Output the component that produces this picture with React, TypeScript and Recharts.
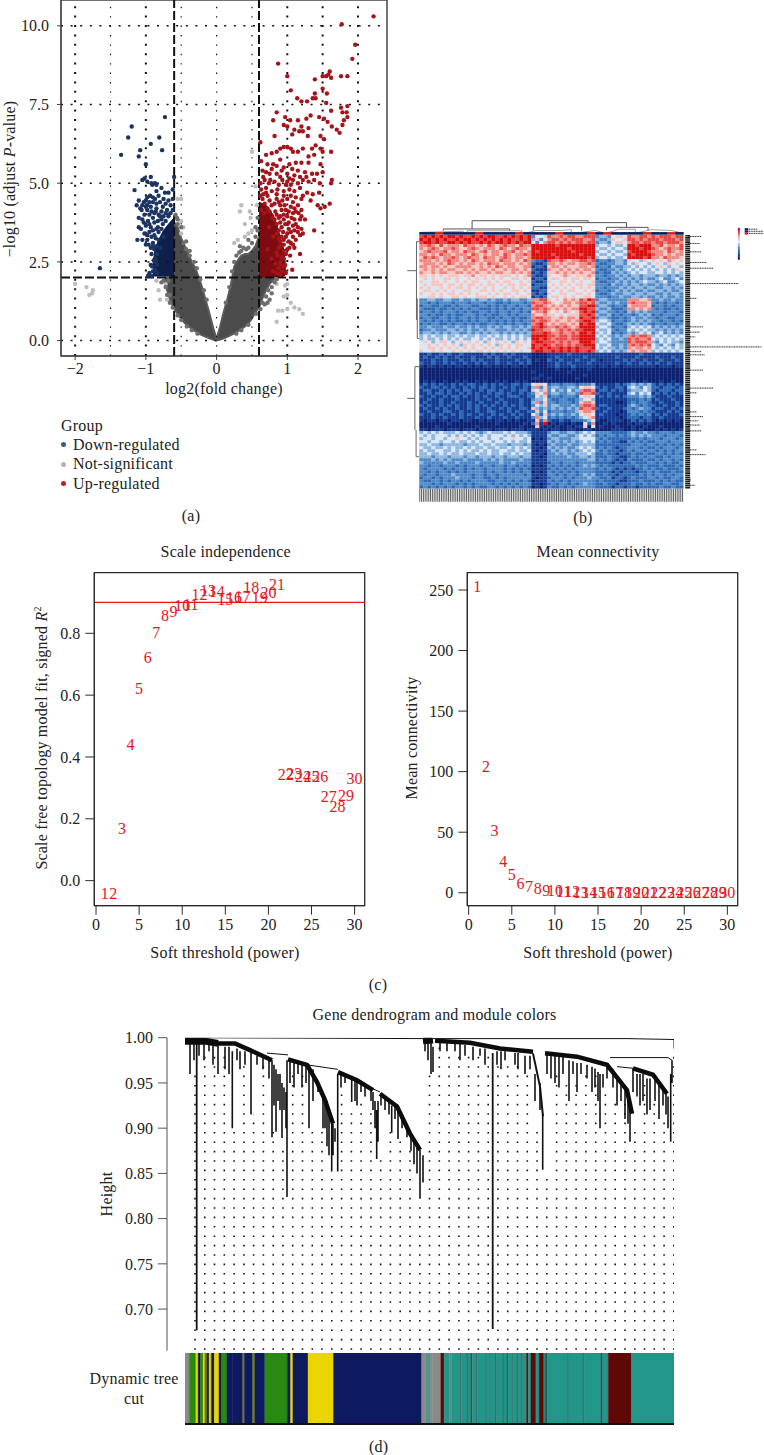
import {
  Area,
  Bar,
  BarChart,
  ComposedChart,
  Line,
  ReferenceArea,
  ReferenceLine,
  Scatter,
  XAxis,
  YAxis,
  ZAxis,
} from "recharts";
import type { CSSProperties, ReactNode } from "react";

const SERIF = '"Liberation Serif", serif';
const INK = "#2b2b2b";

// (a) volcano plot
const foldTicks = [-2, -1, 0, 1, 2];
const pvalTicks = [0, 2.5, 5, 7.5, 10];
const foldGridThick = [-2, -1, 1, 1.5, 2];
const foldGridThin = [-1.5, -0.5, 0, 0.5];

const greyLeftLobe = [
  [-0.74, 1.95, 2], [-0.7, 1.6, 2], [-0.65, 1.25, 2], [-0.6, 1.02, 2], [-0.6, 1.02, 3.75],
  [-0.55, 0.85, 3.6], [-0.5, 0.7, 3.25], [-0.45, 0.56, 3.0], [-0.4, 0.46, 2.75], [-0.35, 0.38, 2.5],
  [-0.3, 0.3, 2.3], [-0.25, 0.22, 2.0], [-0.2, 0.17, 1.65], [-0.15, 0.12, 1.25], [-0.1, 0.07, 0.85],
  [-0.05, 0.03, 0.42], [0, 0, 0.05],
];
const greyRightLobe = [
  [0, 0, 0.05], [0.05, 0.03, 0.45], [0.1, 0.07, 0.9], [0.15, 0.12, 1.3], [0.2, 0.17, 1.75],
  [0.25, 0.23, 2.35], [0.3, 0.3, 2.55], [0.35, 0.37, 2.7], [0.4, 0.45, 2.75], [0.45, 0.55, 2.75],
  [0.5, 0.7, 2.85], [0.55, 0.9, 3.0], [0.6, 1.05, 3.3], [0.6, 1.05, 2], [0.65, 1.35, 2],
  [0.7, 1.6, 2], [0.75, 1.8, 2], [0.82, 1.97, 2],
];
const navyCore = [
  [-0.9, 2.05, 2.4], [-0.87, 2.05, 2.9], [-0.82, 2.05, 3.2], [-0.75, 2.05, 3.5],
  [-0.68, 2.05, 3.7], [-0.6, 2.02, 3.9],
];
const redCore = [
  [0.6, 2.02, 4.4], [0.7, 2.02, 4.3], [0.8, 2.02, 4.0], [0.85, 2.02, 3.7],
  [0.9, 2.02, 3.3], [0.95, 2.05, 2.9], [0.98, 2.1, 2.3],
];

const downPoints = [
  [-0.73, 7.1], [-1.2, 6.8], [-1.25, 6.45], [-0.81, 6.45], [-0.93, 6.25], [-1.08, 6.05], [-0.77, 6.05],
  [-1.35, 5.9], [-1.1, 5.85], [-1.0, 5.6], [-0.6, 5.2], [-1.02, 5.15], [-1.05, 5.1], [-0.98, 5.05],
  [-0.93, 5.2], [-0.92, 5.0], [-0.87, 5.0], [-0.85, 4.95], [-0.91, 4.95], [-0.78, 4.85], [-1.16, 4.78],
  [-0.73, 4.7], [-1.1, 4.45], [-1.05, 4.3], [-1.0, 4.45], [-0.95, 4.4], [-0.87, 4.5], [-0.8, 4.4],
  [-0.72, 4.35], [-0.62, 4.5], [-0.65, 4.3], [-1.08, 4.2], [-1.0, 4.25], [-0.93, 4.25], [-0.85, 4.2],
  [-0.76, 4.25], [-0.7, 4.15], [-1.02, 4.0], [-0.95, 4.0], [-0.88, 4.05], [-0.82, 4.0], [-0.75, 3.95],
  [-0.68, 4.0], [-1.05, 3.85], [-0.97, 3.8], [-0.9, 3.9], [-0.83, 3.8], [-0.72, 3.8], [-1.1, 3.6],
  [-1.0, 3.65], [-0.93, 3.6], [-0.85, 3.55], [-0.78, 3.55], [-1.02, 3.4], [-0.95, 3.45], [-0.88, 3.35],
  [-0.82, 3.2], [-1.05, 3.2], [-0.98, 3.2], [-1.0, 3.05], [-0.9, 3.1], [-0.88, 2.9], [-0.92, 2.75],
  [-0.87, 2.6], [-0.93, 2.4], [-0.9, 2.2], [-0.95, 2.15], [-1.65, 2.3], [-0.85, 3.0], [-0.84, 2.4],
  [-0.62, 4.15], [-0.65, 4.05], [-0.68, 3.95], [-0.72, 4.05], [-0.78, 4.1], [-0.85, 4.35], [-0.9, 4.4],
  [-0.98, 4.3], [-1.03, 4.4], [-1.06, 4.15], [-0.98, 4.15], [-0.92, 4.1], [-0.86, 4.1], [-0.8, 3.95],
  [-0.78, 3.85], [-0.88, 3.75], [-0.95, 3.7], [-1.03, 3.75], [-0.9, 3.5], [-0.83, 3.6], [-0.76, 3.7],
  [-0.82, 3.45], [-0.86, 3.25], [-0.92, 3.3], [-0.98, 3.35], [-0.96, 3.05], [-0.93, 2.95], [-0.9, 3.0],
  [-0.84, 2.75], [-0.86, 2.5], [-0.89, 2.55], [-0.91, 2.35], [-0.87, 2.25], [-0.84, 2.15], [-0.92, 2.05],
  [-0.97, 2.05], [-0.75, 3.3], [-0.8, 2.95], [-0.75, 4.5], [-0.68, 4.45], [-0.82, 4.6], [-0.94, 4.6],
  [-0.9, 4.55], [-0.98, 4.55], [-0.85, 4.75], [-0.68, 4.7], [-0.62, 4.8], [-1.12, 3.2], [-1.07, 3.55],
  [-1.1, 3.9], [-1.13, 4.3],
];
const upPoints = [
  [2.22, 10.3], [1.77, 10.05], [1.96, 9.4], [1.92, 8.95], [0.87, 8.8], [1.0, 8.4], [1.76, 8.4], [1.85, 8.4],
  [1.6, 8.55], [1.55, 8.4], [1.5, 8.4], [1.62, 8.35], [1.39, 8.3], [1.58, 8.45], [1.05, 7.95], [1.5, 8.0],
  [1.56, 7.85], [1.39, 7.85], [1.14, 7.7], [1.2, 7.6], [1.28, 7.6], [1.36, 7.7], [1.4, 7.7], [1.55, 7.55],
  [1.85, 7.45], [1.76, 7.4], [1.78, 7.25], [1.84, 7.25], [1.62, 7.3], [1.85, 7.1], [1.8, 7.0], [0.85, 7.25],
  [0.8, 7.0], [0.97, 7.1], [1.04, 7.0], [1.15, 7.0], [1.27, 7.05], [1.33, 7.15], [1.45, 7.1], [1.52, 7.05],
  [1.57, 6.95], [1.0, 6.8], [0.95, 6.85], [1.2, 6.8], [1.22, 6.65], [1.1, 6.7], [1.07, 6.55], [1.17, 6.65],
  [1.3, 6.75], [1.29, 6.5], [1.63, 6.8], [1.7, 6.7], [1.74, 6.6], [1.78, 6.85], [1.47, 6.5], [1.52, 6.4],
  [0.82, 6.5], [0.62, 6.3], [0.9, 6.1], [0.95, 6.15], [1.0, 6.15], [1.05, 6.1], [1.08, 6.0], [0.85, 6.0],
  [0.78, 5.95], [0.7, 5.9], [1.15, 6.0], [1.22, 6.1], [1.3, 5.85], [1.35, 6.1], [1.4, 6.2], [1.47, 6.1],
  [1.5, 6.0], [1.62, 6.0], [1.38, 5.9], [0.63, 5.7], [0.72, 5.6], [0.8, 5.6], [0.85, 5.55], [0.95, 5.5],
  [1.03, 5.6], [1.12, 5.65], [1.2, 5.65], [1.3, 5.65], [1.47, 5.6], [0.65, 5.4], [0.7, 5.35], [0.75, 5.3],
  [0.85, 5.3], [0.92, 5.4], [1.0, 5.3], [1.1, 5.25], [1.18, 5.2], [1.27, 5.2], [1.35, 5.3], [1.42, 5.3],
  [1.5, 5.35], [1.63, 5.1], [0.62, 5.0], [0.68, 5.1], [0.76, 5.1], [0.82, 5.05], [0.93, 5.1], [1.0, 5.05],
  [1.08, 5.1], [1.15, 5.0], [1.22, 5.1], [1.3, 5.05], [1.38, 5.1], [1.46, 5.0], [1.62, 5.0], [0.63, 4.8],
  [0.7, 4.85], [0.78, 4.75], [0.86, 4.8], [0.95, 4.75], [1.03, 4.8], [1.1, 4.75], [1.18, 4.85], [1.28, 4.7],
  [1.36, 4.65], [1.45, 4.7], [1.22, 4.6], [0.65, 4.5], [0.75, 4.45], [0.85, 4.5], [0.93, 4.45], [1.0, 4.5],
  [1.08, 4.4], [1.33, 4.45], [1.43, 4.3], [1.47, 4.2], [1.53, 4.25], [1.6, 4.35], [1.15, 4.3], [0.9, 4.3],
  [1.02, 4.1], [1.12, 4.1], [0.95, 4.0], [1.06, 3.9], [1.18, 3.85], [1.25, 3.85], [1.12, 3.7], [1.2, 3.55],
  [1.18, 3.35], [1.22, 3.4], [1.38, 3.5], [1.1, 3.5], [1.02, 3.55], [0.98, 3.3], [1.05, 3.1], [1.0, 2.9],
  [1.1, 2.95], [1.18, 2.75], [0.95, 2.6], [0.97, 2.4], [1.07, 2.25], [0.98, 2.15], [0.85, 2.8], [0.9, 3.0],
  [0.92, 3.6], [0.88, 3.9], [0.83, 4.1], [0.75, 4.1], [0.95, 3.2], [1.0, 3.7], [0.9, 2.4],
  [0.62, 4.6], [0.66, 4.65], [0.72, 4.6], [0.68, 4.35], [0.78, 4.3], [0.82, 4.35], [0.88, 4.4], [0.96, 4.3],
  [1.05, 4.25], [1.1, 4.2], [1.2, 4.15], [0.72, 4.2], [0.92, 4.15], [0.98, 4.15], [1.08, 4.05], [1.16, 4.05],
  [0.85, 4.0], [0.9, 3.95], [1.0, 3.95], [1.1, 3.85], [1.2, 3.95], [0.82, 3.85], [0.95, 3.85], [1.02, 3.75],
  [0.9, 3.75], [0.97, 3.7], [1.08, 3.65], [1.15, 3.6], [0.85, 3.7], [0.88, 3.5], [0.94, 3.45], [1.05, 3.45],
  [1.15, 3.45], [0.85, 3.4], [0.92, 3.3], [1.0, 3.4], [1.08, 3.3], [1.12, 3.2], [0.88, 3.25], [0.95, 3.05],
  [1.02, 3.15], [1.08, 3.05], [0.9, 3.15], [0.88, 2.95], [0.95, 2.85], [1.03, 2.95], [0.86, 2.7], [0.92, 2.65],
  [0.98, 2.75], [1.04, 2.7], [0.9, 2.5], [0.94, 2.35], [0.87, 2.3], [0.92, 2.2], [0.85, 2.15], [0.9, 2.1],
  [0.8, 2.2], [0.83, 2.45], [0.78, 2.6], [0.72, 2.9], [0.8, 3.3], [0.74, 3.6], [0.79, 3.9], [0.68, 4.05],
  [0.63, 4.15], [0.7, 4.7], [0.85, 4.65], [0.95, 4.6], [1.05, 4.6], [1.12, 4.55], [1.2, 4.5], [0.74, 5.0],
  [0.88, 4.95], [0.98, 4.95], [1.05, 4.95], [0.9, 5.2], [0.78, 5.45], [0.66, 5.2], [1.03, 5.15], [0.9, 5.75],
  [1.15, 5.4], [1.07, 5.45], [1.25, 5.35],
];
const quietPoints = [
  [-1.84, 1.7], [-1.75, 1.6], [-1.76, 1.5], [-1.8, 1.45], [-2.0, 1.8], [0.85, 1.8], [1.0, 1.8], [0.97, 1.75],
  [1.0, 1.45], [0.95, 1.4], [1.05, 1.2], [1.1, 1.05], [1.17, 1.0], [1.22, 0.85], [0.87, 0.95], [0.93, 0.95],
  [1.0, 1.0], [0.85, 0.6], [-0.82, 1.6], [-0.72, 1.8], [-0.8, 1.3], [-0.7, 1.3], [-0.85, 1.9], [-0.5, 4.5],
  [-0.55, 4.5], [0.35, 4.3], [0.33, 4.1], [0.48, 3.9], [0.5, 3.5], [0.4, 3.7], [0.25, 3.1], [0.3, 3.2],
  [0.45, 3.4], [0.5, 6.0], [0.55, 4.9], [0.57, 4.3], [-0.5, 3.8], [-0.47, 3.6], [-0.5, 3.4], [0.4, 3.3], [0.47, 4.1],
];
const lobeEdgePoints = [
  [-0.62, 1.05], [-0.66, 1.2], [-0.7, 1.45], [-0.72, 1.7], [-0.75, 1.9], [-0.78, 1.85], [-0.68, 1.9], [-0.66, 1.45],
  [-0.55, 0.8], [-0.5, 0.65], [-0.42, 0.45], [-0.35, 0.33], [-0.27, 0.22], [-0.55, 3.7], [-0.56, 3.9], [-0.58, 4.0],
  [-0.5, 3.6], [-0.47, 3.1], [-0.43, 2.9], [-0.38, 2.7], [-0.55, 3.85], [-0.43, 3.15], [-0.38, 2.85], [-0.32, 2.5],
  [-0.28, 2.3], [-0.23, 1.95], [-0.18, 1.6], [-0.14, 1.3], [0.25, 2.5], [0.28, 2.7], [0.32, 2.8], [0.35, 2.85],
  [0.38, 2.95], [0.42, 2.9], [0.45, 2.95], [0.5, 3.1], [0.55, 3.3], [0.55, 3.6], [0.58, 3.5], [0.58, 3.9],
  [0.45, 3.2], [0.33, 3.0], [0.22, 2.2], [0.18, 1.7], [0.13, 1.2], [0.65, 1.2], [0.7, 1.4], [0.73, 1.6],
  [0.78, 1.7], [0.82, 1.85], [0.85, 1.95], [0.68, 1.15], [0.72, 1.2], [0.62, 1.0], [0.56, 0.85], [0.45, 0.5],
  [0.35, 0.33], [0.28, 0.22], [0.75, 1.3], [0.78, 1.5],
];

// (b) heatmap, one digit per cell (0 navy .. 9 red), groups follow the column dendrogram cut
const heatGroupStarts = [0, 28, 32, 40, 44, 48, 52, 58];
const heatRows = [
  "8989898998988989899889898989 3556 87787887 7888 3443 5665 877887 87888788",
  "9898989889899898989898988989 4635 78878788 8778 4334 6556 887878 88788878",
  "8998988998989889898998989899 5357 88787878 8788 3443 5665 788788 78878887",
  "7787686777687767687678776877 9999 99899999 9999 4554 5445 998999 77867768",
  "7678767787667876777687678776 9999 99999899 9999 5445 4554 999899 87678778",
  "6787778677687767867767786767 9899 99999989 9999 4554 5445 899998 77768767",
  "7767687767776876767768767787 9999 98999999 8999 5445 4554 989999 87767677",
  "6878767787678776877678767767 9999 99899999 9989 4554 5445 999989 77687776",
  "7776767877676876777687767687 3221 87787677 8878 2332 3443 655465 65657656",
  "6777676876767767687767776767 2112 77676776 7787 3223 3443 546554 56546565",
  "7767767667777667676876776677 1221 67767666 7767 2332 4334 454545 45654554",
  "6767676776676767767667677676 2111 76676767 6776 3223 3434 545454 54545465",
  "7667677667767676676776676767 1212 66767676 7667 2322 4343 454554 45545454",
  "6656565666566756656566656567 2112 65567656 6676 3323 3434 344344 43443434",
  "5656556656556565656565566565 1221 56656566 5665 2332 3343 434343 34533453",
  "6556656556565665565656655656 2112 65566565 6556 3223 3434 343454 43453345",
  "5656665665656656566565665665 1222 56565656 6566 3332 4334 344343 34343434",
  "6565565656656565656556565656 2211 65656565 6565 3323 3343 434434 43344343",
  "5665656565566556656565566565 1122 56565665 5656 2332 3434 343343 34434334",
  "6556565665656565565656656556 2121 65566556 6565 3223 4334 434434 43343443",
  "5566565566565566656556565665 1212 56656565 5665 3332 3343 344343 34343343",
  "3344334433433434434334344334 7788 65657676 8798 3443 3333 777667 33433433",
  "3323233323332333233223233323 8778 76567767 8878 4334 3433 787776 32323323",
  "2332232232333223323232332332 7887 67676766 8899 3443 2332 677776 23323233",
  "3222322323232332223232323233 8878 76767677 9988 4334 2223 776767 32322323",
  "2332323332323223323233233232 6778 65657656 8989 3443 3232 434343 33323332",
  "3323223232233323232233232333 7667 66565666 8898 4334 2323 323434 23233323",
  "2332233232332323322323323223 7887 76676776 9889 3443 2232 343343 32332233",
  "3232323232232323323232323233 8788 76766767 8998 4554 2332 343434 33233232",
  "2323322323323232233232323323 7897 67677676 9899 5445 3223 434343 23323323",
  "3343334334334343343434433434 8898 77878767 9999 4554 2332 454545 34343434",
  "2334333443434334344333434343 9887 76787878 8999 5445 3233 545454 43434343",
  "3443434344334343434434343434 8889 87787787 9989 4545 2323 434545 34534343",
  "4545445445454454454545454544 9999 88788788 9999 5454 3434 787887 45454545",
  "4544545454544554545445454545 9989 87888788 9999 4545 3343 878778 54545454",
  "5654566545656565465656546565 8998 88787877 9998 4554 3333 878887 43545443",
  "5565656565465656565465656655 9889 87887878 8999 5445 3343 787878 54354354",
  "5566565656565655656565656556 9898 98898989 8889 5454 4343 767767 54545454",
  "6556565565656566565656565655 8998 89898989 8898 4545 3434 676776 45454545",
  "1121121211211111212112121111 0000 11111211 1111 1111 1111 111211 11111111",
  "1211212112111211121211211121 0000 11211111 1211 1111 1211 112111 12111211",
  "1112112111211212111211112112 0100 21121112 1112 1011 1112 121121 11211121",
  "2112112121121121211211211212 0000 11211211 1121 1111 1211 211212 12112111",
  "1011010101101010110101011010 0000 11211121 1111 0110 1101 111111 10111011",
  "0000000000000000000000000000 0000 00100010 0010 0000 0000 000000 00000000",
  "0000000000000000000000000000 1000 00000100 0000 0000 0000 000000 00000000",
  "0000000000000000000000000000 0010 00000000 0100 0000 0000 000000 00000000",
  "0000000000000000000000000000 1100 10000001 0000 0000 0000 000000 00000000",
  "0101001001010010100101001010 0000 00000000 0000 0000 0000 010010 00100100",
  "1212121121212211212121122122 5665 23323332 3334 1111 1212 343434 21212121",
  "2112212121121212212112121121 4736 34433443 5665 2121 1221 454354 22122212",
  "1221121212122112122121121221 6546 35343534 7887 1221 2121 344454 21222122",
  "1121221211212121121221211212 3657 34433443 8778 2112 1111 453545 12121212",
  "2112112122121121211211222112 2546 23323332 5665 1212 1212 333434 21112111",
  "1121121112111121121121111211 3445 32233223 4554 1111 1111 222323 12111211",
  "1211121121112112111212111211 4736 33233323 6776 1111 1001 232332 11211121",
  "2121121212112121212112121211 3546 34433343 7887 1221 1111 343232 21121121",
  "1211212112112121121121211221 6434 34343434 8778 2112 1112 323433 12211212",
  "1121112211211121122111212112 2635 23332334 6776 1121 1101 333232 21112121",
  "2112121121212112112121121211 5426 34343343 5665 1211 1011 232323 12121112",
  "1112112111211121121112112111 3745 23232323 4567 1111 1101 222122 11211111",
  "1011011011011001010110101001 1627 21121122 2345 1001 1110 121212 10101010",
  "0000000100000000000100000010 2719 01010010 0527 0010 1000 101101 00000000",
  "0000100000000010000000000100 0610 10100101 1605 0100 0100 010010 00100000",
  "1101110111011101110111011101 1101 01100110 0110 0000 1110 010100 01010101",
  "4545454445454543454445454443 1111 34433443 4545 3333 2222 343343 32333233",
  "5454555454545454545554545454 1111 43344334 5454 2323 3232 343434 33323332",
  "4554554556554545545545565545 0101 34433344 5555 3232 2222 232323 33233323",
  "5545545545445454554554545445 1111 43434343 4545 2323 2211 323232 23332333",
  "4454434444434445445444344434 1010 34333433 4444 2222 2222 233323 32323232",
  "5445445454454544544544545454 1101 43434334 5454 2323 2122 333232 23233323",
  "4544554454545445454455445445 1011 34344343 4545 3232 2212 323323 32323233",
  "4454454544544454454454454544 1110 33434334 4454 2232 2122 232232 23323232",
  "4443444344434434443443444344 1101 33333433 4434 2223 2211 232323 32232333",
  "3334343433343333434343333433 1111 33333333 3344 2323 2121 322232 23233232",
  "4333334334333343333343343333 1111 23323332 3333 2222 1212 232223 32323223",
  "3323323332323332332332332323 0101 32323232 3434 3232 2222 223232 22322232",
  "3233332323323233233332323232 1111 23232323 3333 2323 2121 212232 32232223",
  "3323233232323333232332323233 0101 32323232 3333 2222 1212 221223 23222322",
  "3233233343333233233233333323 1111 33232332 3434 2232 2122 222323 23323233",
  "2332323334333233223232333333 1011 23332323 3343 3223 1221 232223 32322332",
  "3223323233232333322332323232 0111 32323233 3333 2322 2211 222322 23232322",
  "3332323332323233332323232333 1101 23233232 3433 2232 2122 232232 32233223",
  "2323232323323232233232323232 0101 32232323 3333 2222 1221 221222 22322322",
];
const heatPalette = [
  "#0c2070", "#163a90", "#2f68b3", "#5089c6", "#8fb6de",
  "#dbe6f4", "#f5c6c0", "#ee8a86", "#e54a48", "#d90f0f",
];
const columnGroupBar = "001000010000100001000101000010010";
const columnGroupColors = ["#0a1a5e", "#d81e1e"];
const colKeyLevels = [9, 8, 7, 6, 5, 4, 3, 2, 1, 0];
const groupKeyLevels = [0, 0, 9];

const colDendroLinks = [
  [[6.6, -1.14], [6.6, -2.7], [21.1, -2.7], [21.1, -2.34]],
  [[3, -0.82], [3, -1.14], [11.3, -1.14], [11.3, -0.82]],
  [[16.3, -1.58], [16.3, -2.34], [25.9, -2.34], [25.9, -1.45]],
  [[14.25, -0.82], [14.25, -1.58], [20.3, -1.58], [20.3, -0.82]],
  [[23.4, -0.9], [23.4, -1.45], [28.6, -1.45], [28.6, -0.9]],
];
const colDendroTwigs = [
  [[0.2, -0.5], [5.5, -0.7], [5.5, -0.45]],
  [[6, -0.45], [6, -0.8], [12.8, -0.8], [12.8, -0.45]],
  [[13.6, -0.45], [14.6, -0.85], [17.5, -0.85], [19, -1.0], [19, -0.45]],
  [[20, -0.45], [22, -0.85], [23, -0.45]],
  [[23.6, -0.45], [25, -1.1], [27, -1.1], [27, -0.45]],
  [[27.4, -0.45], [29, -1.0], [31.5, -0.85], [32.6, -0.45]],
];
const rowDendroLinks = [
  [[-1.5, 6.76], [-0.35, 6.76]],
  [[-0.35, 1.26], [-0.35, 16.1]],
  [[-0.25, 12], [-0.25, 19.6]],
  [[-0.35, 1.26], [0, 1.26]],
  [[-0.25, 19.6], [0, 19.6]],
  [[-1.5, 30.95], [-0.55, 30.95]],
  [[-0.55, 24.95], [-0.55, 36.95]],
  [[-0.4, 36.95], [-0.4, 42]],
  [[-0.55, 24.95], [0, 24.95]],
  [[-0.4, 42], [0, 42]],
];
const rowLabelEnds = [
  [0.3, 35.3], [1.6, 35.1], [3.2, 35.3], [5.2, 35.9], [6.3, 36.8], [9.2, 39.9], [12, 34.7], [17.4, 35.5],
  [18.4, 35.1], [19.3, 34.5], [21.2, 42.8], [22.1, 35.3], [22.7, 35.7], [25.6, 35.5], [29, 36.8], [29.9, 34.7],
  [33.5, 34.7], [34.4, 35.5], [35.2, 34.9], [36, 35.1], [37.1, 35.3], [40.7, 34.7], [41.6, 35.8], [46.4, 34],
  [47.4, 34.5],
];
const groupKeyStubs = [
  [[41.2, -1.1], [42.3, -1.1]],
  [[41.2, -0.7], [43.0, -0.7]],
  [[41.2, -0.3], [43.0, -0.3]],
];

// (c) soft threshold picks, index + 1 is the power
const fitR2 = [
  -0.04, -0.04, 0.168, 0.439, 0.62, 0.723, 0.802, 0.859, 0.872, 0.889,
  0.892, 0.927, 0.938, 0.935, 0.91, 0.916, 0.92, 0.948, 0.916, 0.931,
  0.957, 0.342, 0.345, 0.338, 0.338, 0.338, 0.272, 0.239, 0.277, 0.33,
];
const meanK = [
  253, 104.6, 51.2, 26, 15.4, 7.7, 5, 3.3, 2.2, 1.5,
  1, 0.8, 0.6, 0.5, 0.4, 0.3, 0.3, 0.2, 0.2, 0.2,
  0.1, 0.1, 0.1, 0.1, 0.1, 0.1, 0.1, 0.1, 0.1, 0.1,
];
const powerTicks = [0, 5, 10, 15, 20, 25, 30];
const r2Ticks = [0, 0.2, 0.4, 0.6, 0.8];
const kTicks = [0, 50, 100, 150, 200, 250];

// (d) gene dendrogram, x is gene rank on the tree
const heightTicks = [0.7, 0.75, 0.8, 0.85, 0.9, 0.95, 1];
const treeSpines = [
  [[33, 0.9937], [50, 0.9937], [65, 0.9863], [87, 0.975]],
  [[103, 0.976], [122, 0.97], [132, 0.951], [140, 0.931], [148, 0.905]],
  [[153, 0.962], [172, 0.953], [188, 0.942]],
  [[195, 0.938], [212, 0.924], [225, 0.894], [235, 0.876]],
  [[250, 0.9967], [285, 0.9945], [315, 0.988], [348, 0.9845]],
  [[360, 0.9827], [392, 0.979], [422, 0.97], [442, 0.942], [447, 0.916]],
  [[448, 0.966], [468, 0.959], [482, 0.938]],
];
const treeHeavySpines = [
  [[0, 0.9962], [20, 0.9962], [33, 0.9937]],
  [[238, 0.9965], [248, 0.9975]],
];
const treeThinSpines = [[[348, 0.9827], [355, 0.946], [358, 0.913]]];
const treeLinks = [
  [[0, 1], [238, 0.999]],
  [[248, 0.999], [442, 0.999], [489, 0.998], [489, 0.988]],
  [[82, 0.983], [103, 0.981]],
  [[122, 0.97], [153, 0.965]],
  [[185, 0.945], [195, 0.94]],
  [[425, 0.978], [483, 0.978], [487, 0.975]],
  [[432, 0.968], [450, 0.966]],
];
const treeDrops = [
  [5, 0.997, 0.96], [9, 0.997, 0.975], [14, 0.995, 0.98], [19, 0.995, 0.975], [24, 0.994, 0.985], [28, 0.993, 0.97],
  [33, 0.993, 0.96], [40, 0.99, 0.965], [44, 0.99, 0.96], [47.3, 0.985, 0.9], [52, 0.988, 0.975], [55, 0.985, 0.965],
  [60, 0.985, 0.97], [66, 0.985, 0.915], [72, 0.98, 0.97], [78, 0.978, 0.965], [84, 0.975, 0.955], [87, 0.975, 0.89],
  [89, 0.97, 0.925], [91, 0.965, 0.896], [93, 0.96, 0.93], [95, 0.96, 0.92], [97, 0.95, 0.889], [99, 0.945, 0.92],
  [101, 0.94, 0.9], [102, 0.975, 0.824], [105, 0.975, 0.95], [109, 0.975, 0.945], [113, 0.973, 0.96], [117, 0.972, 0.945],
  [121, 0.97, 0.95], [124, 0.97, 0.9], [128, 0.965, 0.93], [133, 0.95, 0.94], [138, 0.94, 0.9], [140, 0.935, 0.9],
  [142, 0.93, 0.88], [144, 0.92, 0.87], [146.7, 0.91, 0.852], [148, 0.905, 0.87], [150, 0.9, 0.885], [152.7, 0.96, 0.852],
  [156, 0.96, 0.945], [160, 0.958, 0.95], [166.7, 0.955, 0.929], [170, 0.955, 0.93], [172, 0.953, 0.925], [176, 0.95, 0.94],
  [180, 0.947, 0.935], [186, 0.942, 0.93], [188, 0.94, 0.92], [190, 0.93, 0.9], [191.7, 0.92, 0.866], [193, 0.93, 0.885],
  [196, 0.938, 0.925], [200, 0.935, 0.92], [204, 0.93, 0.915], [206.7, 0.925, 0.895], [210, 0.925, 0.91], [213, 0.92, 0.888],
  [217, 0.915, 0.9], [222, 0.905, 0.89], [226, 0.893, 0.875], [229, 0.885, 0.86], [232, 0.88, 0.85], [235, 0.876, 0.822],
  [238, 0.87, 0.84], [240, 0.997, 0.985], [243, 0.996, 0.975], [246, 0.995, 0.96], [248, 0.99, 0.962], [255, 0.996, 0.985],
  [262, 0.995, 0.985], [270, 0.994, 0.985], [275, 0.993, 0.975], [280, 0.992, 0.98], [288, 0.99, 0.975], [295, 0.988, 0.98],
  [300, 0.988, 0.97], [312, 0.985, 0.97], [316, 0.985, 0.965], [320, 0.985, 0.975], [330, 0.983, 0.97], [333, 0.983, 0.965],
  [340, 0.98, 0.96], [345, 0.98, 0.965], [350, 0.96, 0.93], [355, 0.95, 0.92], [357.7, 0.916, 0.854], [362, 0.983, 0.96],
  [366, 0.982, 0.955], [370, 0.98, 0.95], [374, 0.98, 0.945], [378, 0.98, 0.96], [384, 0.975, 0.93], [388, 0.974, 0.96],
  [392, 0.972, 0.94], [396, 0.972, 0.96], [402, 0.97, 0.955], [407, 0.968, 0.94], [410, 0.966, 0.945], [413, 0.962, 0.93],
  [415, 0.96, 0.9], [418, 0.96, 0.945], [422, 0.97, 0.955], [428, 0.965, 0.945], [432, 0.955, 0.925], [436, 0.95, 0.93],
  [440, 0.945, 0.91], [443, 0.93, 0.905], [445, 0.92, 0.885], [448, 0.966, 0.94], [452, 0.96, 0.935], [455, 0.96, 0.925],
  [458, 0.96, 0.93], [462, 0.955, 0.915], [465, 0.955, 0.92], [470, 0.955, 0.93], [474, 0.95, 0.91], [478, 0.945, 0.925],
  [481, 0.94, 0.915], [483, 0.935, 0.9], [485.7, 0.96, 0.885], [487, 0.975, 0.95],
];
const treeLongDrops = [
  [11.7, 0.997, 0.6766],
  [307.7, 0.983, 0.678],
];
const guideColumns = [
  10, 19.8, 29.5, 39.3, 49.1, 58.9, 68.6, 78.4, 88.2, 97.9,
  107.7, 117.5, 127.3, 137, 146.8, 156.6, 166.4, 176.1, 185.9, 195.7,
  205.4, 215.2, 225, 234.8, 244.5, 254.3, 264.1, 273.9, 283.6, 293.4,
  303.2, 312.9, 322.7, 332.5, 342.3, 352, 361.8, 371.6, 381.4, 391.1,
  400.9, 410.7, 420.4, 430.2, 440, 449.8, 459.5, 469.3, 479.1, 488.8,
];
const guideTops = [
  0.96, 0.985, 0.985, 0.98, 0.9, 0.975, 0.915, 0.97, 0.9, 0.88,
  0.965, 0.96, 0.9, 0.9, 0.85, 0.945, 0.925, 0.93, 0.92, 0.865,
  0.9, 0.89, 0.88, 0.82, 0.96, 0.99, 0.985, 0.985, 0.98, 0.98,
  0.98, 0.97, 0.97, 0.97, 0.96, 0.9, 0.85, 0.96, 0.95, 0.95,
  0.96, 0.96, 0.945, 0.93, 0.93, 0.9, 0.95, 0.93, 0.91, 0.98,
];

const GREY = "#8a8a8a";
const GREEN = "#288a10";
const YELLOW = "#ead500";
const NAVY = "#0d1a60";
const TEAL = "#229688";
const MAROON = "#5e0808";
const OLIVE = "#6f7a20";
const SLATE = "#2f5450";
const moduleWidths = [
  4.3, 6.7, 2.3, 2.3, 2.7, 1.7, 2.3, 2, 2.3, 3, 4.7, 2.7, 5.3, 6, 10, 1.7, 8.3, 2.3, 10, 22.7, 3.3, 2.3, 15.3, 25.7,
  89, 4, 5.3, 1.7, 8.3, 3.3, 5.7, 1.7, 9.3, 0.7, 6, 0.7, 2.7, 1.7, 4.3, 0.7, 8.7, 0.7, 3.3, 0.7, 5, 1, 6.7, 0.7,
  3.3, 1, 4.7, 0.7, 4, 1, 3.3, 1, 4, 1.7, 2.7, 5, 3.3, 4.7, 1.3, 2.3, 20.7, 0.7, 15, 1, 16.7, 1.7, 5.7, 23.3, 43,
];
const moduleColors = [
  GREY, GREEN, YELLOW, NAVY, GREEN, YELLOW, OLIVE, NAVY, YELLOW, NAVY, YELLOW, NAVY, GREEN, NAVY, NAVY, OLIVE, NAVY, OLIVE, NAVY, GREEN, NAVY, YELLOW, NAVY, YELLOW,
  NAVY, GREY, "#5f8f8a", GREY, GREY, MAROON, TEAL, "#5f8f8a", TEAL, SLATE, TEAL, SLATE, TEAL, SLATE, TEAL, SLATE, TEAL, SLATE, TEAL, SLATE, TEAL, SLATE, TEAL, SLATE,
  TEAL, SLATE, TEAL, SLATE, TEAL, SLATE, TEAL, SLATE, TEAL, MAROON, TEAL, MAROON, TEAL, MAROON, TEAL, SLATE, TEAL, SLATE, TEAL, SLATE, TEAL, SLATE, TEAL, MAROON, TEAL,
];

type Pair = number[];

function bandRows(rows: number[][]) {
  return rows.map(([x, low, high]) => ({ x, band: [low, high] }));
}
function pointRows(rows: Pair[]) {
  return rows.map(([x, y]) => ({ x, y }));
}
// paths split by null rows so one Line can hold many strokes
function pathRows(paths: Pair[][]) {
  const rows: { x: number; y: number | null }[] = [];
  for (const path of paths) {
    for (const [x, y] of path) rows.push({ x, y });
    rows.push({ x: path[path.length - 1][0], y: null });
  }
  return rows;
}
function dropPaths(drops: number[][]) {
  return drops.map(([x, top, bottom]) => [[x, top], [x, bottom]]);
}

// the axis runs in coarse column/row units, 2 fine cells per column
const ROW_UNIT = 48 / heatRows.length;
const heatCells = heatRows.flatMap((line, row) =>
  line.split(" ").flatMap((group, g) =>
    group.split("").map((digit, i) => ({
      x: (heatGroupStarts[g] + i + 0.5) / 2,
      y: (row + 0.5) * ROW_UNIT,
      level: Number(digit),
    })),
  ),
);
const groupCells = columnGroupBar.split("").map((digit, col) => ({ x: col + 0.5, y: -0.3, level: Number(digit) }));
const keyCells = colKeyLevels.map((level, i) => ({ x: 39.95, y: -1.05 + i * 0.6, level }));
const groupKeyCells = groupKeyLevels.map((level, i) => ({ x: 40.9, y: -1.1 + i * 0.4, level }));
const fitRows = fitR2.map((y, i) => ({ x: i + 1, y, power: i + 1 }));
const kRows = meanK.map((y, i) => ({ x: i + 1, y, power: i + 1 }));
const moduleRow = Object.fromEntries(moduleWidths.map((w, i) => ["s" + i, w]));
const guidePaths = guideColumns.map((x, i) => [[x, 0.655], [x, guideTops[i]]]);
const labelStubPaths = rowLabelEnds.map(([row, end]) => [[33.6, row], [end, row]]);

const tickStyle = { fontFamily: SERIF, fontSize: 16, fill: "#222" };

function Caption({ x, y, children, style }: { x: number; y: number; children: ReactNode; style?: CSSProperties }) {
  return (
    <div
      style={{
        position: "absolute",
        left: x,
        top: y,
        transform: "translate(-50%, -50%)",
        whiteSpace: "nowrap",
        fontFamily: SERIF,
        fontSize: 16,
        color: "#222",
        textAlign: "center",
        letterSpacing: 0.2,
        ...style,
      }}
    >
      {children}
    </div>
  );
}

function RedLabel(props: any) {
  return (
    <text x={props.cx} y={props.cy} dy={5.5} textAnchor="middle" fontFamily={SERIF} fontSize={16} fill="#e8141c">
      {props.payload.power}
    </text>
  );
}

function HeatCell(props: any) {
  return <rect x={props.cx - 2} y={props.cy - 1.51} width={4.2} height={3.2} fill={heatPalette[props.payload.level]} />;
}
function GroupCell(props: any) {
  return <rect x={props.cx - 4} y={props.cy - 1.3} width={8.4} height={2.6} fill={columnGroupColors[props.payload.level]} />;
}
function KeyCell(props: any) {
  return <rect x={props.cx - 1} y={props.cy - 1.6} width={2} height={3.4} fill={heatPalette[props.payload.level]} />;
}
function GroupKeyCell(props: any) {
  return <rect x={props.cx - 1.8} y={props.cy - 1} width={3.6} height={2.1} fill={heatPalette[props.payload.level]} />;
}

function VolcanoPanel() {
  const xDomain = [-2.2, 2.41];
  const yDomain = [-0.49, 10.82];
  return (
    <div style={{ position: "absolute", left: 0, top: 0 }}>
      <ComposedChart width={400} height={400} margin={{ top: 0, right: 13, bottom: 0, left: 0 }}>
        <XAxis dataKey="x" type="number" domain={xDomain} ticks={foldTicks} interval={0} height={44} tick={tickStyle} tickSize={4} tickMargin={3} stroke="#444" tickFormatter={(v) => String(v).replace("-", "−")} allowDataOverflow />
        <YAxis dataKey="y" type="number" domain={yDomain} ticks={pvalTicks} interval={0} width={61} tick={tickStyle} tickSize={4} tickMargin={8} stroke="#444" tickFormatter={(v) => v.toFixed(1)} allowDataOverflow />
        <ZAxis range={[15, 15]} />
        {pvalTicks.map((v) => (
          <ReferenceLine key={"h" + v} y={v} stroke="#111" strokeWidth={1.5} strokeDasharray="2 7.6" />
        ))}
        {foldGridThick.map((v) => (
          <ReferenceLine key={"vt" + v} x={v} stroke="#111" strokeWidth={2} strokeDasharray="2 7.4" />
        ))}
        {foldGridThin.map((v) => (
          <ReferenceLine key={"v" + v} x={v} stroke="#111" strokeWidth={1.2} strokeDasharray="1.4 8" />
        ))}
        <Scatter data={pointRows(quietPoints)} fill="#bdbdbd" isAnimationActive={false} />
        <Scatter data={pointRows(lobeEdgePoints)} fill="#6e6e6e" isAnimationActive={false} />
        <Area data={bandRows(greyLeftLobe)} dataKey="band" fill="#4b4b4b" fillOpacity={1} stroke="#5a5a5a" strokeWidth={2} dot={false} isAnimationActive={false} />
        <Area data={bandRows(greyRightLobe)} dataKey="band" fill="#4b4b4b" fillOpacity={1} stroke="#5a5a5a" strokeWidth={2} dot={false} isAnimationActive={false} />
        <Scatter data={pointRows(downPoints)} fill="#1c3461" isAnimationActive={false} />
        <Scatter data={pointRows(upPoints)} fill="#a5141a" isAnimationActive={false} />
        <Area data={bandRows(navyCore)} dataKey="band" fill="#0f1f4c" fillOpacity={1} stroke="#0f1f4c" dot={false} isAnimationActive={false} />
        <Area data={bandRows(redCore)} dataKey="band" fill="#7d0c10" fillOpacity={1} stroke="#7d0c10" dot={false} isAnimationActive={false} />
        <ReferenceLine x={-0.6} stroke="#111" strokeWidth={2} strokeDasharray="9 3" />
        <ReferenceLine x={0.6} stroke="#111" strokeWidth={2} strokeDasharray="9 3" />
        <ReferenceLine y={2} stroke="#111" strokeWidth={2} strokeDasharray="9 3" />
        <ReferenceArea x1={xDomain[0]} x2={xDomain[1]} y1={yDomain[0]} y2={yDomain[1]} fill="none" stroke="#444" strokeWidth={1.5} ifOverflow="visible" />
      </ComposedChart>
    </div>
  );
}

function HeatmapPanel() {
  return (
    <div style={{ position: "absolute", left: 400, top: 210 }}>
      <ComposedChart width={364} height={310} margin={{ top: 0, right: 0, bottom: 0, left: 0 }}>
        <XAxis dataKey="x" type="number" domain={[-2.41, 43.09]} hide allowDataOverflow />
        <YAxis dataKey="y" type="number" domain={[-4.73, 53.98]} reversed hide allowDataOverflow />
        <Scatter data={heatCells} shape={HeatCell} isAnimationActive={false} />
        <Scatter data={groupCells} shape={GroupCell} isAnimationActive={false} />
        <Scatter data={keyCells} shape={KeyCell} isAnimationActive={false} />
        <Scatter data={groupKeyCells} shape={GroupKeyCell} isAnimationActive={false} />
        <Line data={pathRows(colDendroLinks)} dataKey="y" stroke="#555" strokeWidth={1} dot={false} isAnimationActive={false} />
        <Line data={pathRows(colDendroTwigs)} dataKey="y" stroke="#888" strokeWidth={0.8} dot={false} isAnimationActive={false} />
        <Line data={pathRows(rowDendroLinks)} dataKey="y" stroke="#666" strokeWidth={1} dot={false} isAnimationActive={false} />
        <Line data={pathRows([[[33.55, 0], [33.55, 48]]])} dataKey="y" stroke="#1c1c1c" strokeWidth={5} strokeDasharray="1.6 0.5" dot={false} isAnimationActive={false} />
        <Line data={pathRows(labelStubPaths)} dataKey="y" stroke="#333" strokeWidth={1} strokeDasharray="1.2 0.5" dot={false} isAnimationActive={false} />
        <Line data={pathRows(groupKeyStubs)} dataKey="y" stroke="#333" strokeWidth={1} strokeDasharray="1.2 0.5" dot={false} isAnimationActive={false} />
        <Line data={pathRows([[[0, 49.3], [33, 49.3]]])} dataKey="y" stroke="#5a5a5a" strokeWidth={13} strokeDasharray="1 0.8" dot={false} isAnimationActive={false} />
      </ComposedChart>
    </div>
  );
}

function PowerPanel(props: {
  left: number;
  width: number;
  axisWidth: number;
  right: number;
  rows: { x: number; y: number; power: number }[];
  xDomain: number[];
  yDomain: number[];
  yTicks: number[];
  yFormat: (v: number) => string;
  fitLine?: number;
}) {
  const { left, width, axisWidth, right, rows, xDomain, yDomain, yTicks, yFormat, fitLine } = props;
  return (
    <div style={{ position: "absolute", left, top: 560 }}>
      <ComposedChart width={width} height={410} margin={{ top: 12.7, right, bottom: 0, left: 0 }}>
        <XAxis dataKey="x" type="number" domain={xDomain} ticks={powerTicks} interval={0} height={64.3} tick={tickStyle} tickSize={9} tickMargin={4} stroke={INK} allowDataOverflow />
        <YAxis dataKey="y" type="number" domain={yDomain} ticks={yTicks} interval={0} width={axisWidth} tick={tickStyle} tickSize={9} tickMargin={5} stroke={INK} tickFormatter={yFormat} allowDataOverflow />
        {fitLine != null && <ReferenceLine y={fitLine} stroke="#e8141c" strokeWidth={1.3} />}
        <Scatter data={rows} shape={RedLabel} isAnimationActive={false} />
        <ReferenceArea x1={xDomain[0]} x2={xDomain[1]} y1={yDomain[0]} y2={yDomain[1]} fill="none" stroke={INK} strokeWidth={1.3} ifOverflow="visible" />
      </ComposedChart>
    </div>
  );
}

function TreePanel() {
  return (
    <div style={{ position: "absolute", left: 100, top: 1030 }}>
      <ComposedChart width={600} height={330} margin={{ top: 7.7, right: 26, bottom: 9.3, left: 0 }}>
        <XAxis dataKey="x" type="number" domain={[-18, 489]} hide allowDataOverflow />
        <YAxis dataKey="y" type="number" domain={[0.654, 1]} ticks={heightTicks} interval={0} width={67} tick={tickStyle} tickSize={9} tickMargin={5} stroke="#555" tickFormatter={(v) => v.toFixed(2)} allowDataOverflow />
        <Line data={pathRows(guidePaths)} dataKey="y" stroke="#111" strokeWidth={1.6} strokeDasharray="1.6 7.8" dot={false} isAnimationActive={false} />
        <Line data={pathRows(treeLinks)} dataKey="y" stroke="#111" strokeWidth={1} dot={false} isAnimationActive={false} />
        <Line data={pathRows(dropPaths(treeDrops))} dataKey="y" stroke="#111" strokeWidth={1.6} dot={false} isAnimationActive={false} />
        <Line data={pathRows(dropPaths(treeLongDrops))} dataKey="y" stroke="#111" strokeWidth={1.8} dot={false} isAnimationActive={false} />
        <Line data={pathRows(treeThinSpines)} dataKey="y" stroke="#111" strokeWidth={2} dot={false} isAnimationActive={false} />
        <Line data={pathRows(treeSpines)} dataKey="y" stroke="#0c0c0c" strokeWidth={4.5} dot={false} isAnimationActive={false} />
        <Line data={pathRows(treeHeavySpines)} dataKey="y" stroke="#0c0c0c" strokeWidth={7} dot={false} isAnimationActive={false} />
      </ComposedChart>
    </div>
  );
}

function ModuleBarPanel() {
  return (
    <div style={{ position: "absolute", left: 185, top: 1352.7 }}>
      <BarChart width={489} height={73} layout="vertical" data={[moduleRow]} barCategoryGap={0} margin={{ top: 0, right: 0, bottom: 0, left: 0 }}>
        <XAxis type="number" domain={[0, 489]} height={2} tick={false} tickLine={false} stroke="#111" strokeWidth={2} />
        <YAxis type="category" hide />
        {moduleWidths.map((_, i) => (
          <Bar key={i} dataKey={"s" + i} stackId="modules" fill={moduleColors[i]} stroke={moduleColors[i]} strokeWidth={0.4} isAnimationActive={false} />
        ))}
      </BarChart>
    </div>
  );
}

const legendEntries = [
  { label: "Down-regulated", color: "#3a5a8a" },
  { label: "Not-significant", color: "#b3b3b3" },
  { label: "Up-regulated", color: "#c41f25" },
];

export default function App() {
  return (
    <div style={{ position: "absolute", left: 0, top: 0, width: 764, height: 1455, background: "#fff", overflow: "hidden" }}>
      <VolcanoPanel />
      <Caption x={10} y={179} style={{ transform: "translate(-50%, -50%) rotate(-90deg)" }}>
        −log10 (adjust <i>P</i>-value)
      </Caption>
      <Caption x={224} y={389}>log2(fold change)</Caption>
      <Caption x={61} y={426} style={{ transform: "translate(0, -50%)" }}>Group</Caption>
      {legendEntries.map((entry, i) => (
        <div key={entry.label}>
          <div style={{ position: "absolute", left: 61, top: 442 + i * 19.7, width: 5, height: 5, borderRadius: "50%", background: entry.color }} />
          <Caption x={73} y={444.5 + i * 19.7} style={{ transform: "translate(0, -50%)" }}>{entry.label}</Caption>
        </div>
      ))}
      <Caption x={191} y={516}>(a)</Caption>

      <HeatmapPanel />
      <Caption x={583} y={518}>(b)</Caption>

      <Caption x={225.7} y={552}>Scale independence</Caption>
      <Caption x={598} y={552}>Mean connectivity</Caption>
      <PowerPanel
        left={0}
        width={380}
        axisWidth={94.3}
        right={15.3}
        rows={fitRows}
        xDomain={[-0.2, 31.17]}
        yDomain={[-0.081, 0.996]}
        yTicks={r2Ticks}
        yFormat={(v) => v.toFixed(1)}
        fitLine={0.9}
      />
      <PowerPanel
        left={380}
        width={384}
        axisWidth={87.3}
        right={26.3}
        rows={kRows}
        xDomain={[-0.16, 31.2]}
        yDomain={[-10.7, 264.3]}
        yTicks={kTicks}
        yFormat={(v) => String(v)}
      />
      <Caption x={42} y={738} style={{ transform: "translate(-50%, -50%) rotate(-90deg)" }}>
        Scale free topology model fit, signed <i>R</i><sup style={{ fontSize: 10, lineHeight: 0 }}>2</sup>
      </Caption>
      <Caption x={412} y={738} style={{ transform: "translate(-50%, -50%) rotate(-90deg)" }}>Mean connectivity</Caption>
      <Caption x={225} y={953}>Soft threshold (power)</Caption>
      <Caption x={598} y={953}>Soft threshold (power)</Caption>
      <Caption x={378} y={985}>(c)</Caption>

      <Caption x={434.5} y={1015}>Gene dendrogram and module colors</Caption>
      <TreePanel />
      <ModuleBarPanel />
      <Caption x={106.7} y={1194} style={{ transform: "translate(-50%, -50%) rotate(-90deg)" }}>Height</Caption>
      <Caption x={134} y={1379}>Dynamic tree</Caption>
      <Caption x={134} y={1399}>cut</Caption>
      <Caption x={378.7} y={1446.7}>(d)</Caption>
    </div>
  );
}
